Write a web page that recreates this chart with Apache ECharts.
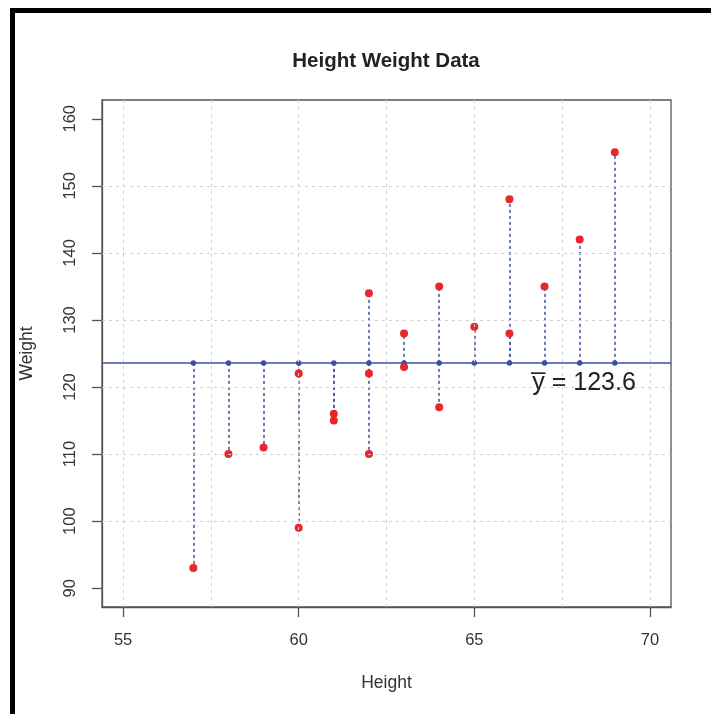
<!DOCTYPE html>
<html>
<head>
<meta charset="utf-8">
<script src="https://cdn.jsdelivr.net/npm/echarts@6/dist/echarts.min.js"></script>
<style>
  html, body { margin: 0; padding: 0; background: #fff; }
  #chart { width: 711px; height: 714px; }
</style>
</head>
<body>
<div id="chart"></div>
<script>
// data
var heights = [57, 58, 59, 60, 60, 61, 61, 62, 62, 62, 63, 63, 64, 64, 65, 66, 66, 67, 68, 69]
var weights = [93, 110, 111, 122, 99, 116, 115, 134, 122, 110, 128, 123, 135, 117, 129, 148, 128, 135, 142, 155]
var xTicks = [55, 60, 65, 70]
var yTicks = [90, 100, 110, 120, 130, 140, 150, 160]
var xGrid = [55, 57.5, 60, 62.5, 65, 67.5, 70]
var yGrid = [100, 110, 120, 130, 140, 150]

var sum = 0
weights.forEach(function (w) { sum += w })
var mean = Math.round(sum / weights.length * 10) / 10

var points = heights.map(function (h, i) { return [h, weights[i]] })
var segs = heights.map(function (h, i) { return { coords: [[h, mean], [h, weights[i]]] } })
var base = []
heights.forEach(function (h) {
    if (!base.some(function (p) { return p[0] === h })) base.push([h, mean])
})

var font = 'Liberation Sans, Arial, sans-serif'
var blue = '#3a51a3'
var red = '#e8262c'

var chart = echarts.init(document.getElementById('chart'))
chart.setOption({
    animation: false,
    textStyle: { fontFamily: font },
    title: {
        text: 'Height Weight Data',
        left: 381,
        top: 46,
        textAlign: 'center',
        textStyle: { fontSize: 20.5, fontWeight: 'bold', color: '#222', fontFamily: font }
    },
    grid: {
        left: 102, right: 40, top: 100, bottom: 107,
        show: true, borderColor: '#555', borderWidth: 1.3
    },
    xAxis: {
        type: 'value', min: 54.4, max: 70.6,
        name: 'Height', nameLocation: 'middle', nameGap: 67,
        nameTextStyle: { fontSize: 17.5, color: '#333' },
        axisLine: { show: true, lineStyle: { color: '#555', width: 1.3 } },
        axisTick: { show: true, customValues: xTicks, length: 10, lineStyle: { color: '#555', width: 1.3 } },
        axisLabel: { customValues: xTicks, fontSize: 16.5, color: '#333', margin: 25 },
        splitLine: { show: false }
    },
    yAxis: {
        type: 'value', min: 87.2, max: 162.8,
        name: 'Weight', nameLocation: 'middle', nameGap: 66, nameRotate: 90,
        nameTextStyle: { fontSize: 17.5, color: '#333' },
        axisLine: { show: true, lineStyle: { color: '#555', width: 1.3 } },
        axisTick: { show: true, customValues: yTicks, length: 10, lineStyle: { color: '#555', width: 1.3 } },
        axisLabel: { customValues: yTicks, fontSize: 16.5, color: '#333', margin: 23, rotate: 90 },
        splitLine: { show: false }
    },
    graphic: [
        { type: 'rect', shape: { x: 10, y: 8, width: 701, height: 5 }, style: { fill: '#000' } },
        { type: 'rect', shape: { x: 10, y: 8, width: 5, height: 706 }, style: { fill: '#000' } }
    ],
    series: [
        {
            // background grid
            type: 'scatter', data: [], silent: true,
            markLine: {
                silent: true, symbol: ['none', 'none'], label: { show: false },
                lineStyle: { color: '#cfcfcf', type: [3, 4], width: 1 },
                data: xGrid.map(function (v) { return { xAxis: v } })
                    .concat(yGrid.map(function (v) { return { yAxis: v } }))
            }
        },
        {
            type: 'lines', coordinateSystem: 'cartesian2d', silent: true,
            lineStyle: { color: blue, type: [3, 3], width: 1.5, opacity: 1 },
            data: segs
        },
        {
            type: 'scatter', data: base, symbolSize: 5.5,
            itemStyle: { color: blue, opacity: 1 },
            markLine: {
                silent: true, symbol: ['none', 'none'], label: { show: false },
                lineStyle: { color: blue, type: 'solid', width: 1.5 },
                data: [{ yAxis: mean }]
            },
            markPoint: {
                symbol: 'circle', symbolSize: 0,
                label: {
                    show: true, position: 'right', distance: 0,
                    formatter: 'y\u0305 = ' + mean.toFixed(1),
                    fontSize: 25, color: '#222', fontFamily: font
                },
                data: [{ coord: [66.65, 120.6] }]
            }
        },
        {
            type: 'scatter', data: points, symbolSize: 8,
            itemStyle: { color: red, opacity: 1 }
        }
    ]
})
</script>
</body>
</html>
